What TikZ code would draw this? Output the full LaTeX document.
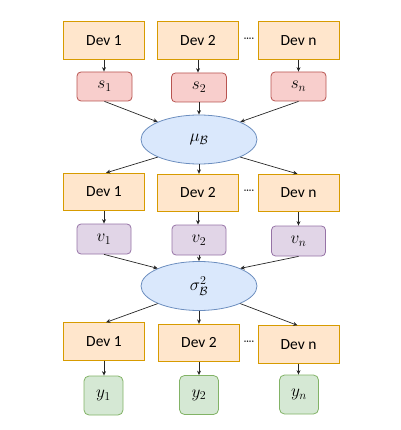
\documentclass[tikz,border=0pt]{standalone}
\usepackage{fontspec}
\setmainfont{Carlito}
\usetikzlibrary{shapes.geometric,arrows.meta}
\definecolor{devf}{HTML}{FFE6CC}\definecolor{devd}{HTML}{D79B00}
\definecolor{sf}{HTML}{F8CECC}\definecolor{sd}{HTML}{B85450}
\definecolor{ef}{HTML}{DAE8FC}\definecolor{ed}{HTML}{6C8EBF}
\definecolor{vf}{HTML}{E1D5E7}\definecolor{vd}{HTML}{9673A6}
\definecolor{yf}{HTML}{D5E8D4}\definecolor{yd}{HTML}{82B366}
\begin{document}
\begin{tikzpicture}[x=1pt,y=-1pt,
  font=\fontsize{15.5}{18}\selectfont,
  mathtxt/.style={font=\fontsize{18}{20}\selectfont},
  devbox/.style={draw=devd,fill=devf,line width=0.8pt,minimum width=81pt,minimum height=37.5pt,inner sep=0pt},
  sbox/.style={mathtxt,draw=sd,fill=sf,line width=0.8pt,rounded corners=4pt,minimum width=55pt,minimum height=29pt,inner sep=0pt},
  vbox/.style={mathtxt,draw=vd,fill=vf,line width=0.8pt,rounded corners=4pt,minimum width=54pt,minimum height=30pt,inner sep=0pt},
  ybox/.style={mathtxt,draw=yd,fill=yf,line width=0.8pt,rounded corners=5pt,minimum width=39pt,minimum height=39pt,inner sep=0pt},
  ell/.style={mathtxt,ellipse,draw=ed,fill=ef,line width=0.8pt,minimum width=116pt,minimum height=49pt,inner sep=0pt},
  dots/.style={inner sep=0pt,font=\fontsize{10}{12}\selectfont},
  arr/.style={-{Stealth[length=4.5pt,width=4pt]},line width=0.7pt,black!85}
]
\useasboundingbox (0,0) rectangle (400,430);
% row 1
\node[devbox] (d11) at (104,40.5) {Dev 1};
\node[devbox] (d12) at (198,40.5) {Dev 2};
\node[devbox] (d1n) at (298.5,40.5) {Dev n};
\node[dots] (t1) at (249,40) {····};
\node[sbox] (s1) at (104.5,86.5) {$s_1$};
\node[sbox] (s2) at (199,87.5) {$s_2$};
\node[sbox] (sn) at (298.5,86.5) {$s_n$};
\node[ell] (mu) at (199,139.5) {$\mu_{\mathcal{B}}$};
% row 2
\node[devbox] (d21) at (104,192) {Dev 1};
\node[devbox] (d22) at (198,193) {Dev 2};
\node[devbox] (d2n) at (298.5,193) {Dev n};
\node[dots] (t2) at (249,192) {····};
\node[vbox] (v1) at (104,239) {$v_1$};
\node[vbox] (v2) at (199,240) {$v_2$};
\node[vbox] (vn) at (298.5,241) {$v_n$};
\node[ell] (sg) at (199,286) {$\sigma^{2}_{\mathcal{B}}$};
% row 3
\node[devbox] (d31) at (104,341.5) {Dev 1};
\node[devbox] (d32) at (199,343) {Dev 2};
\node[devbox] (d3n) at (298.5,344.5) {Dev n};
\node[dots] (t3) at (249,343) {····};
\node[ybox] (y1) at (103.5,395.5) {$y_1$};
\node[ybox] (y2) at (199,395) {$y_2$};
\node[ybox] (yn) at (299,394.5) {$y_n$};
% arrows
\draw[arr] (d11.south) -- (d11.south |- s1.north);
\draw[arr] (d12.south) -- (d12.south |- s2.north);
\draw[arr] (d1n.south) -- (sn.north);
\draw[arr] (s1.south) -- (mu.north west);
\draw[arr] (s2.south) -- (mu.north);
\draw[arr] (sn.south) -- (mu.north east);
\draw[arr] (mu.south west) -- ([xshift=2pt]d21.north);
\draw[arr] (mu.south) -- (d22.north -| mu.south);
\draw[arr] (mu.south east) -- ([xshift=-1pt]d2n.north);
\draw[arr] (d21.south) -- (d21.south |- v1.north);
\draw[arr] (d22.south) -- (d22.south |- v2.north);
\draw[arr] (d2n.south) -- (vn.north);
\draw[arr] (v1.south) -- (sg.north west);
\draw[arr] (v2.south) -- (sg.north);
\draw[arr] (vn.south) -- (sg.north east);
\draw[arr] (sg.south west) -- ([xshift=2pt]d31.north);
\draw[arr] (sg.south) -- (d32.north);
\draw[arr] (sg.south east) -- ([xshift=-1pt]d3n.north);
\draw[arr] (d31.south) -- (d31.south |- y1.north);
\draw[arr] (d32.south) -- (d32.south |- y2.north);
\draw[arr] (d3n.south) -- (d3n.south |- yn.north);
\end{tikzpicture}
\end{document}
